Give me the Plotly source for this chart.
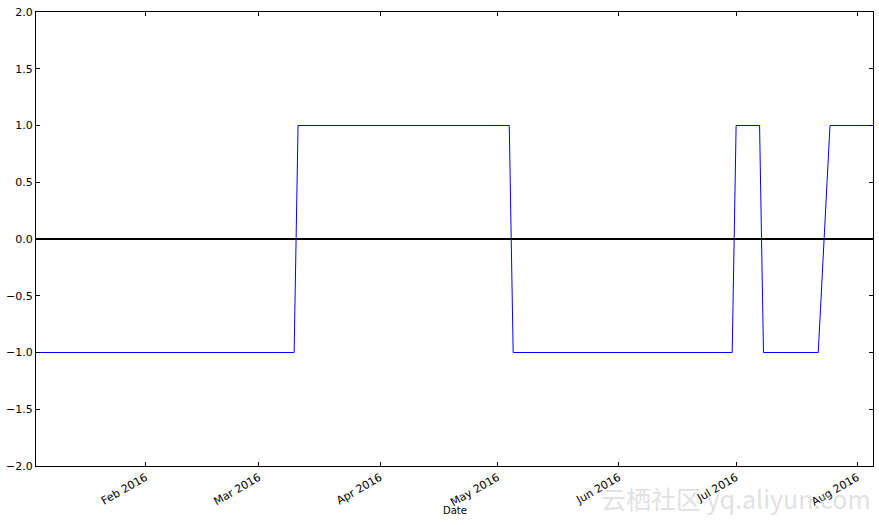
import plotly.graph_objects as go

# Signal breakpoints (business-day series, value -1 or 1)
dates = ["2016-01-04", "2016-03-10", "2016-03-11", "2016-05-04", "2016-05-05",
         "2016-06-30", "2016-07-01", "2016-07-07", "2016-07-08", "2016-07-22",
         "2016-07-25", "2016-08-05"]
signal = [-1, -1, 1, 1, -1, -1, 1, 1, -1, -1, 1, 1]

x_range = ["2016-01-04", "2016-08-05"]
x_ticks = ["2016-02-01", "2016-03-01", "2016-04-01", "2016-05-01",
           "2016-06-01", "2016-07-01", "2016-08-01"]
x_labels = ["Feb 2016", "Mar 2016", "Apr 2016", "May 2016",
            "Jun 2016", "Jul 2016", "Aug 2016"]
y_ticks = [-2.0, -1.5, -1.0, -0.5, 0.0, 0.5, 1.0, 1.5, 2.0]
y_labels = ["−2.0", "−1.5", "−1.0", "−0.5", "0.0", "0.5", "1.0", "1.5", "2.0"]

fig = go.Figure()
fig.add_trace(go.Scatter(x=dates, y=signal, mode="lines",
                         line=dict(color="#0000ff", width=1), showlegend=False))

fig.add_shape(type="line", xref="paper", x0=0, x1=1, yref="y", y0=0, y1=0,
              line=dict(color="black", width=2))

font = dict(family="DejaVu Sans", size=11, color="black")
fig.update_layout(
    width=879, height=525,
    margin=dict(l=36, r=6, t=12, b=59),
    plot_bgcolor="white", paper_bgcolor="white",
    font=font,
    xaxis=dict(range=x_range, tickvals=x_ticks, ticktext=x_labels, tickangle=-30,
               automargin=False,
               showgrid=False, zeroline=False, showline=True, linecolor="black",
               linewidth=1, mirror="ticks", ticks="inside", ticklen=4,
               tickcolor="black"),
    yaxis=dict(range=[-2, 2], tickvals=y_ticks, ticktext=y_labels,
               automargin=False,
               showgrid=False, zeroline=False, showline=True, linecolor="black",
               linewidth=1, mirror="ticks", ticks="inside", ticklen=4,
               tickcolor="black"),
)

fig.add_annotation(text="Date", xref="paper", yref="paper", x=0.5, y=0,
                   xanchor="center", yanchor="middle", yshift=-44,
                   showarrow=False,
                   font=dict(family="DejaVu Sans", size=10, color="black"))

fig.add_annotation(text="云栖社区 yq.aliyun.com", xref="paper", yref="paper",
                   x=1.0, y=0, xanchor="right", yanchor="middle", yshift=-32,
                   showarrow=False,
                   font=dict(family="Noto Sans CJK SC", size=25,
                             color="rgba(200,200,200,0.55)"))

fig.write_html("out.html", config={"displayModeBar": False},
               post_script="document.body.style.margin='0';document.body.style.padding='0';")
